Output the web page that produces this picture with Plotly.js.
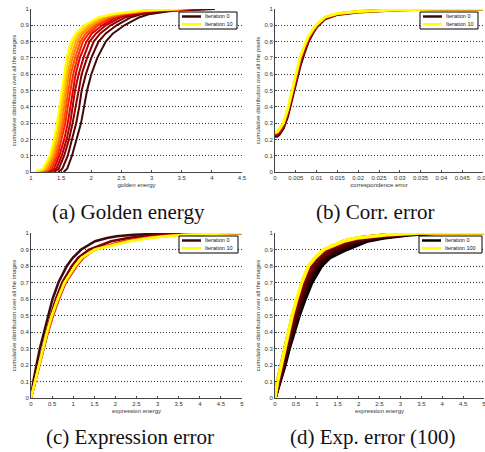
<!DOCTYPE html>
<html>
<head>
<meta charset="utf-8">
<script src="https://cdn.plot.ly/plotly-3.0.1.min.js"></script>
<style>html,body{margin:0;padding:0;background:#fff;}#chart{width:485px;height:452px;}</style>
</head>
<body>
<div id="chart"></div>
<script>
// ---------- (a) Golden energy: CDF levels and x per iteration ----------
const aLevels = [0, 0.02, 0.1, 0.2, 0.3, 0.4, 0.5, 0.6, 0.7, 0.8, 0.85, 0.9, 0.95, 0.97, 0.99, 1.0];
const aIter0  = [1.54, 1.60, 1.68, 1.76, 1.83, 1.88, 1.93, 2.00, 2.10, 2.24, 2.36, 2.55, 2.80, 2.98, 3.35, 4.05];
const aIter1  = [1.45, 1.52, 1.61, 1.68, 1.75, 1.80, 1.84, 1.91, 2.00, 2.12, 2.24, 2.42, 2.66, 2.85, 3.24, 3.93];
const aIter2  = [1.38, 1.46, 1.55, 1.63, 1.69, 1.74, 1.78, 1.84, 1.93, 2.04, 2.15, 2.32, 2.57, 2.77, 3.16, 3.85];
const aIter3  = [1.32, 1.42, 1.51, 1.59, 1.65, 1.69, 1.73, 1.79, 1.87, 1.97, 2.08, 2.24, 2.49, 2.69, 3.10, 3.77];
const aIter4  = [1.28, 1.38, 1.47, 1.55, 1.61, 1.65, 1.69, 1.74, 1.81, 1.92, 2.01, 2.18, 2.42, 2.63, 3.04, 3.71];
const aIter5  = [1.23, 1.34, 1.44, 1.51, 1.57, 1.61, 1.65, 1.70, 1.77, 1.86, 1.96, 2.11, 2.36, 2.57, 2.99, 3.66];
const aIter6  = [1.20, 1.31, 1.41, 1.48, 1.54, 1.58, 1.62, 1.66, 1.73, 1.82, 1.91, 2.06, 2.30, 2.52, 2.95, 3.61];
const aIter7  = [1.16, 1.28, 1.38, 1.46, 1.51, 1.55, 1.59, 1.63, 1.69, 1.78, 1.86, 2.01, 2.26, 2.48, 2.91, 3.57];
const aIter8  = [1.13, 1.25, 1.36, 1.43, 1.48, 1.52, 1.56, 1.60, 1.66, 1.74, 1.82, 1.97, 2.21, 2.43, 2.87, 3.53];
const aIter9  = [1.10, 1.22, 1.33, 1.40, 1.45, 1.49, 1.53, 1.57, 1.62, 1.70, 1.78, 1.92, 2.16, 2.39, 2.83, 3.49];
const aIter10 = [1.07, 1.20, 1.31, 1.38, 1.43, 1.47, 1.50, 1.54, 1.59, 1.66, 1.74, 1.88, 2.12, 2.35, 2.80, 3.45];
const aSeries = [aIter0, aIter1, aIter2, aIter3, aIter4, aIter5, aIter6, aIter7, aIter8, aIter9, aIter10];
const aNames  = ['Iteration 0','Iteration 1','Iteration 2','Iteration 3','Iteration 4','Iteration 5','Iteration 6','Iteration 7','Iteration 8','Iteration 9','Iteration 10'];
const aColors = ['#3c0a0a','#5e0000','#8a0000','#b40000','#de0000','#ff2400','#ff5200','#ff8200','#ffac00','#ffd600','#ffff00'];

// ---------- (b) Correspondence error ----------
const bX     = [0, 0.0005, 0.001, 0.002, 0.003, 0.004, 0.005, 0.006, 0.007, 0.008, 0.009, 0.010, 0.012, 0.015, 0.02, 0.025, 0.03, 0.04, 0.05];
const bIter0 = [0.22, 0.22, 0.23, 0.27, 0.34, 0.44, 0.55, 0.65, 0.73, 0.80, 0.85, 0.89, 0.94, 0.967, 0.982, 0.988, 0.995, 1.0, 1.0];
const bIter5 = [0.23, 0.232, 0.245, 0.285, 0.36, 0.465, 0.575, 0.675, 0.75, 0.815, 0.86, 0.897, 0.945, 0.97, 0.984, 0.989, 0.995, 1.0, 1.0];
const bIter10= [0.24, 0.245, 0.26, 0.30, 0.38, 0.49, 0.60, 0.70, 0.77, 0.83, 0.87, 0.905, 0.95, 0.972, 0.985, 0.99, 0.996, 1.0, 1.0];
const bSeries = [bIter0, bIter5, bIter10];
const bNames  = ['Iteration 0','Iteration 5','Iteration 10'];
const bColors = ['#3c0a0a','#e00000','#ffff00'];

// ---------- (c) Expression error ----------
const cLevels = [0, 0.1, 0.2, 0.3, 0.4, 0.5, 0.6, 0.7, 0.8, 0.85, 0.9, 0.95, 0.97, 0.98, 0.99, 1.0, 1.0];
const cIter0  = [0, 0.055, 0.13, 0.21, 0.31, 0.41, 0.51, 0.65, 0.85, 0.99, 1.19, 1.52, 1.80, 2.03, 2.43, 3.60, 5.0];
const cIter1  = [0, 0.09, 0.18, 0.27, 0.37, 0.47, 0.59, 0.74, 0.97, 1.12, 1.38, 1.90, 2.30, 2.62, 3.10, 4.30, 5.0];
const cIter3  = [0, 0.10, 0.20, 0.30, 0.40, 0.52, 0.66, 0.82, 1.08, 1.24, 1.50, 2.20, 2.65, 3.00, 3.50, 4.60, 5.0];
const cIter5  = [0, 0.10, 0.20, 0.29, 0.39, 0.51, 0.65, 0.81, 1.07, 1.23, 1.51, 2.25, 2.72, 3.10, 3.60, 4.70, 5.0];
const cIter7  = [0, 0.098, 0.195, 0.285, 0.385, 0.50, 0.64, 0.80, 1.05, 1.21, 1.52, 2.30, 2.78, 3.16, 3.65, 4.75, 5.0];
const cIter10 = [0, 0.095, 0.19, 0.28, 0.38, 0.49, 0.63, 0.79, 1.04, 1.20, 1.52, 2.35, 2.82, 3.22, 3.70, 4.80, 5.0];
const cSeries = [cIter0, cIter1, cIter3, cIter5, cIter7, cIter10];
const cNames  = ['Iteration 0','Iteration 1','Iteration 3','Iteration 5','Iteration 7','Iteration 10'];
const cColors = ['#3c0a0a','#7a0000','#e00000','#ff4000','#ff9a00','#ffff00'];

// ---------- (d) Expression error, 100 iterations ----------
const dLevels  = [0, 0.1, 0.2, 0.3, 0.4, 0.5, 0.6, 0.7, 0.8, 0.85, 0.9, 0.95, 0.97, 0.98, 0.99, 1.0, 1.0];
const dIter0   = [0, 0.13, 0.24, 0.34, 0.45, 0.58, 0.72, 0.88, 1.11, 1.31, 1.71, 2.19, 2.59, 2.87, 3.22, 3.94, 5.0];
const dIter10  = [0, 0.12, 0.22, 0.32, 0.43, 0.55, 0.68, 0.84, 1.05, 1.25, 1.61, 2.09, 2.48, 2.76, 3.12, 3.85, 5.0];
const dIter20  = [0, 0.11, 0.21, 0.30, 0.41, 0.52, 0.65, 0.80, 1.01, 1.19, 1.53, 2.01, 2.38, 2.67, 3.04, 3.78, 5.0];
const dIter30  = [0, 0.10, 0.20, 0.29, 0.39, 0.50, 0.63, 0.77, 0.97, 1.15, 1.46, 1.93, 2.30, 2.59, 2.97, 3.72, 5.0];
const dIter40  = [0, 0.09, 0.19, 0.28, 0.38, 0.48, 0.61, 0.74, 0.93, 1.11, 1.40, 1.87, 2.23, 2.53, 2.91, 3.67, 5.0];
const dIter50  = [0, 0.08, 0.18, 0.27, 0.36, 0.47, 0.59, 0.72, 0.90, 1.08, 1.35, 1.82, 2.16, 2.47, 2.85, 3.62, 5.0];
const dIter60  = [0, 0.08, 0.17, 0.26, 0.35, 0.45, 0.57, 0.70, 0.87, 1.04, 1.30, 1.76, 2.10, 2.41, 2.80, 3.58, 5.0];
const dIter70  = [0, 0.07, 0.16, 0.25, 0.34, 0.44, 0.55, 0.68, 0.85, 1.02, 1.26, 1.72, 2.05, 2.37, 2.76, 3.54, 5.0];
const dIter80  = [0, 0.07, 0.16, 0.24, 0.33, 0.43, 0.54, 0.66, 0.83, 0.99, 1.22, 1.68, 2.01, 2.32, 2.72, 3.50, 5.0];
const dIter90  = [0, 0.06, 0.15, 0.23, 0.33, 0.42, 0.53, 0.65, 0.81, 0.97, 1.19, 1.65, 1.98, 2.29, 2.69, 3.48, 5.0];
const dIter100 = [0, 0.06, 0.15, 0.23, 0.32, 0.41, 0.52, 0.64, 0.80, 0.96, 1.17, 1.63, 1.95, 2.27, 2.67, 3.46, 5.0];
const dSeries = [dIter0, dIter10, dIter20, dIter30, dIter40, dIter50, dIter60, dIter70, dIter80, dIter90, dIter100];
const dNames  = ['Iteration 0','Iteration 10','Iteration 20','Iteration 30','Iteration 40','Iteration 50','Iteration 60','Iteration 70','Iteration 80','Iteration 90','Iteration 100'];
const dColors = ['#000000','#1a0000','#2c0000','#3e0000','#500000','#600000','#700000','#800000','#900000','#e00000','#ffff00'];

// ---------- text ----------
const xTitles = ['golden energy', 'correspondence error', 'expression energy', 'expression energy'];
const yTitles = ['cumulative distribution over all the images', 'cumulative distribution over all the pixels',
                 'cumulative distribution over all the images', 'cumulative distribution over all the images'];
const captions = ['(a) Golden energy', '(b) Corr. error', '(c) Expression error', '(d) Exp. error (100)'];
const legendLabels = [['Iteration 0', 'Iteration 10'], ['Iteration 0', 'Iteration 10'],
                      ['Iteration 0', 'Iteration 10'], ['Iteration 0', 'Iteration 100']];

const traces = [];
function addPanel(series, names, colors, width, axIdx, xIsLevels, common) {
  series.forEach((s, i) => {
    traces.push({
      type: 'scatter', mode: 'lines',
      x: xIsLevels ? s : common,
      y: xIsLevels ? common : s,
      name: names[i],
      line: {color: colors[i], width: width},
      xaxis: 'x' + (axIdx === 1 ? '' : axIdx),
      yaxis: 'y' + (axIdx === 1 ? '' : axIdx),
      showlegend: false,
      hoverinfo: 'skip'
    });
  });
}
addPanel(aSeries, aNames, aColors, 2, 1, true, aLevels);
addPanel(bSeries, bNames, bColors, 3, 2, false, bX);
addPanel(cSeries, cNames, cColors, 2.5, 3, true, cLevels);
addPanel(dSeries, dNames, dColors, 3.5, 4, true, dLevels);

const sans = 'Liberation Sans, Arial, sans-serif';
const tickFont = {family: sans, size: 6, color: '#333'};
function xAx(domain, range, dtick, title, anchor) {
  return {domain: domain, range: range, dtick: dtick, tick0: 0, anchor: anchor,
    showline: true, linecolor: '#444', linewidth: 1, mirror: false,
    ticks: 'inside', ticklen: 2, tickcolor: '#444', tickfont: tickFont, ticklabeloverflow: 'allow',
    showgrid: false, zeroline: false, fixedrange: true,
    title: {text: title, font: {family: sans, size: 6, color: '#333'}, standoff: 2}};
}
function yAx(domain, title, anchor) {
  return {domain: domain, range: [0, 1.0001], dtick: 0.1, tick0: 0, anchor: anchor,
    showline: true, linecolor: '#444', linewidth: 1, mirror: false,
    ticks: 'inside', ticklen: 2, tickcolor: '#444', tickfont: tickFont,
    showgrid: true, gridcolor: '#333', griddash: '1px,2px', gridwidth: 1,
    zeroline: false, fixedrange: true,
    title: {text: title, font: {family: sans, size: 6, color: '#333'}, standoff: 3}};
}
const W = 485, H = 452;
const leftDom = [31 / W, 242 / W], rightDom = [275 / W, 483 / W];
const topDom = [1 - 172 / H, 1 - 9 / H], botDom = [1 - 398 / H, 1 - 233 / H];

// hand-drawn legend boxes (pixel positions of the box corners)
const legendBoxes = [[179, 12, 58], [420, 12, 58], [179, 236, 59], [419, 236, 63]];
const legendDark = ['#3c0a0a', '#3c0a0a', '#3c0a0a', '#000000'];
const shapes = [], annotations = [];
legendBoxes.forEach((b, k) => {
  const [bx, by, bw] = b, bh = 17;
  const px = v => v / W, py = v => 1 - v / H;
  shapes.push({type: 'rect', xref: 'paper', yref: 'paper', x0: px(bx), x1: px(bx + bw), y0: py(by + bh), y1: py(by),
    line: {color: '#000', width: 1}, fillcolor: '#fff', layer: 'above'});
  [[legendDark[k], by + 4.5], ['#ffff00', by + 12.2]].forEach(([col, yy], j) => {
    shapes.push({type: 'line', xref: 'paper', yref: 'paper', x0: px(bx + 3), x1: px(bx + 22), y0: py(yy), y1: py(yy),
      line: {color: col, width: 2.5}, layer: 'above'});
    annotations.push({text: legendLabels[k][j], xref: 'paper', yref: 'paper', x: px(bx + 24), y: py(yy),
      xanchor: 'left', yanchor: 'middle', showarrow: false, font: {family: sans, size: 5.5, color: '#111'}});
  });
});
const capPos = [[128, 212], [375, 212], [130, 437], [373, 437]];
captions.forEach((c, i) => {
  annotations.push({text: c, xref: 'paper', yref: 'paper', x: capPos[i][0] / W, y: 1 - capPos[i][1] / H,
    xanchor: 'center', yanchor: 'middle', showarrow: false,
    font: {family: 'Liberation Serif, Times New Roman, serif', size: 21, color: '#111'}});
});

const layout = {
  width: W, height: H,
  margin: {l: 0, r: 0, t: 0, b: 0},
  paper_bgcolor: '#fff', plot_bgcolor: '#fff',
  showlegend: false,
  xaxis: xAx(leftDom, [1, 4.5], 0.5, xTitles[0], 'y'),
  yaxis: yAx(topDom, yTitles[0], 'x'),
  xaxis2: xAx(rightDom, [0, 0.0500001], 0.005, xTitles[1], 'y2'),
  yaxis2: yAx(topDom, yTitles[1], 'x2'),
  xaxis3: xAx(leftDom, [0, 5], 0.5, xTitles[2], 'y3'),
  yaxis3: yAx(botDom, yTitles[2], 'x3'),
  xaxis4: xAx([275 / W, 484 / W], [0, 5], 0.5, xTitles[3], 'y4'),
  yaxis4: yAx(botDom, yTitles[3], 'x4'),
  shapes: shapes,
  annotations: annotations
};

Plotly.newPlot('chart', traces, layout, {displayModeBar: false, staticPlot: true});
</script>
</body>
</html>
